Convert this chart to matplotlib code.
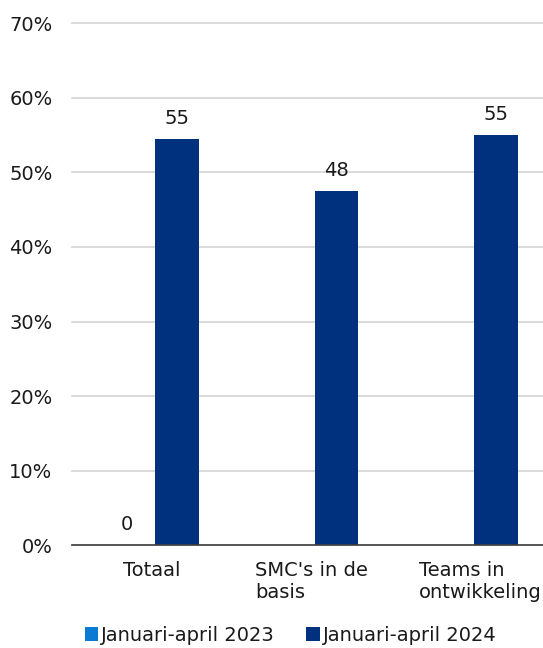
import matplotlib
matplotlib.use("Agg")
import matplotlib.pyplot as plt
import matplotlib.transforms as mtransforms
import numpy as np

categories = ["Totaal", "SMC's in de\nbasis", "Teams in\nontwikkeling"]
series_names = ["Januari-april 2023", "Januari-april 2024"]
values_2023 = [0.0, None, None]
values_2024 = [54.5, 47.5, 55.0]
labels_2023 = ["0", "", ""]
labels_2024 = ["55", "48", "55"]
yticks = [0, 10, 20, 30, 40, 50, 60, 70]

c2023 = "#0A7AD2"
c2024 = "#00317F"
FS = 14

plt.rcParams['font.family'] = ['DejaVu Sans']
fig = plt.figure(figsize=(5.43, 6.48), dpi=100)
ax = fig.add_axes([0.1326, 0.1582, 0.8812, 0.8063])

x = np.arange(len(categories))
bw = 0.272
off = 0.159
v23 = [v if v is not None else 0 for v in values_2023]
b1 = ax.bar(x - off, v23, bw, color=c2023, label=series_names[0], zorder=3)
b2 = ax.bar(x + off, values_2024, bw, color=c2024, label=series_names[1], zorder=3)

for xi, v, lab in zip(x - off, v23, labels_2023):
    if lab:
        ax.annotate(lab, (xi, v), xytext=(0, 8), textcoords="offset points",
                    ha="center", va="bottom", fontsize=FS, color="#1a1a1a")
for xi, v, lab in zip(x + off, values_2024, labels_2024):
    if lab:
        ax.annotate(lab, (xi, v), xytext=(0, 8), textcoords="offset points",
                    ha="center", va="bottom", fontsize=FS, color="#1a1a1a")

ax.set_xlim(-0.5, 2.5)
ax.set_ylim(0, 70)
ax.set_yticks(yticks)
ax.set_yticklabels([f"{t}%" for t in yticks], fontsize=FS, color="#1a1a1a")
ax.set_xticks(x)
ax.set_xticklabels(categories, fontsize=FS, color="#1a1a1a", multialignment="left")
ax.tick_params(axis="both", length=0)
ax.tick_params(axis="y", pad=14)
ax.tick_params(axis="x", pad=11)
# shift last category label slightly right as in reference
lbl = ax.get_xticklabels()[-1]
lbl.set_transform(lbl.get_transform() + mtransforms.ScaledTranslation(0.1, 0, fig.dpi_scale_trans))
ax.grid(axis="y", color="#D4D4D4", linewidth=1.2, zorder=0)
for gl in ax.get_ygridlines():
    gl.set_clip_on(False)
for s in ["top", "right", "left"]:
    ax.spines[s].set_visible(False)
ax.spines["bottom"].set_color("#404040")
ax.spines["bottom"].set_linewidth(1.2)
ax.spines["bottom"].set_zorder(4)

leg = fig.legend(handles=[b1, b2], loc="center", bbox_to_anchor=(0.535, 0.02), ncol=2,
                 frameon=False, fontsize=FS, handlelength=0.7, handleheight=0.7,
                 handletextpad=0.15, columnspacing=1.6, borderpad=0.1)
for t in leg.get_texts():
    t.set_color("#1a1a1a")

fig.savefig("out.png", dpi=100)
